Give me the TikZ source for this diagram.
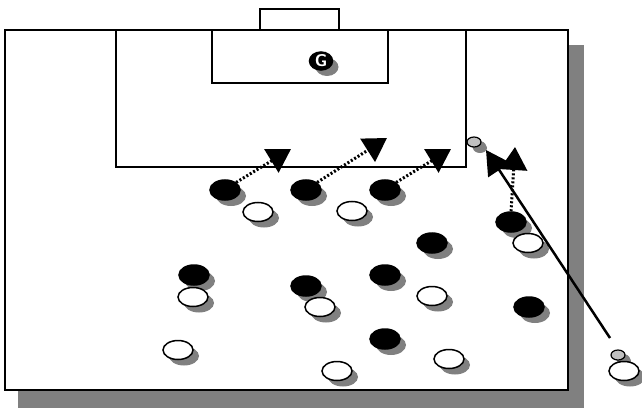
\documentclass[tikz,border=0pt]{standalone}
\usetikzlibrary{arrows.meta, shapes.geometric, shadows}
\definecolor{shadegray}{HTML}{808080}
\definecolor{ballgray}{HTML}{C0C0C0}
\tikzset{
  pitch/.style={draw=black, line width=1.5pt},
  pitchshade/.style={fill=shadegray, draw=none},
  figure/.style={ellipse, inner sep=0pt, line width=1.5pt, draw=black,
                 drop shadow={shadow xshift=6pt, shadow yshift=-6pt,
                              fill=shadegray, opacity=1}},
  attacker/.style={figure, fill=black, minimum width=30pt, minimum height=20pt},
  defender/.style={figure, fill=white, minimum width=30pt, minimum height=19pt},
  keeper/.style={figure, fill=black, minimum width=23pt, minimum height=18pt,
                 inner sep=-3pt, text=white,
                 font=\fontsize{17pt}{17pt}\selectfont\sffamily\bfseries},
  ball/.style={figure, fill=ballgray, line width=1.2pt, minimum width=14pt,
               minimum height=10pt,
               drop shadow={shadow xshift=5pt, shadow yshift=-4pt,
                            fill=shadegray, opacity=1}},
  run/.style={-{Triangle[length=23pt, width=27pt]}, line width=3pt,
              dash pattern=on 2pt off 2pt},
  pass/.style={-{Triangle[length=24pt, width=26pt]}, line width=2.5pt},
}

\begin{document}
\begin{tikzpicture}[x=1pt, y=-1pt]
\useasboundingbox (0,0) rectangle (642,409);

% Pitch with its shadow, penalty box, goal box and goal
\fill[pitchshade] (18,45) rectangle (584,408);
\filldraw[pitch, fill=white] (5,30) rectangle (568,390);
\draw[pitch] (116,30) rectangle (466,167);
\draw[pitch] (212,30) rectangle (388,83);
\draw[pitch] (260,9) rectangle (339,30);

% Keeper and balls
\node[keeper] (gk) at (321,61) {G};
\node[ball] (ball1) at (474,142) {};
\node[ball] (ball2) at (618,355) {};

% Attackers (black)
\foreach \n/\p in {a1/{(225,190)}, a2/{(306,190)}, a3/{(385,190)},
                   a4/{(432,243)}, a5/{(511,222)}, a6/{(194,275)},
                   a7/{(306,286)}, a8/{(385,275)}, a9/{(529,307)},
                   a10/{(385,339)}}
  \node[attacker] (\n) at \p {};

% Defenders (white)
\foreach \n/\p in {d1/{(258,212)}, d2/{(352,211)}, d3/{(528,243)},
                   d4/{(193,297)}, d5/{(320,307)}, d6/{(432,296)},
                   d7/{(178,350)}, d8/{(337,371)}, d9/{(449,359)},
                   d10/{(624,371)}}
  \node[defender] (\n) at \p {};

% Runs and the pass
\coordinate (r1) at (291,149);
\coordinate (r2) at (387,138);
\coordinate (r3) at (451,149);
\coordinate (r4) at (515,147);
\coordinate (ptip) at (486,150);
\coordinate (pfrom) at (610,338);
\draw[run] (a1.north east) -- (r1);
\draw[run] (a2.north east) -- (r2);
\draw[run] (a3.north east) -- (r3);
\draw[run] (a5.north) -- (r4);
\draw[pass] (pfrom) -- (ptip);

\end{tikzpicture}
\end{document}
